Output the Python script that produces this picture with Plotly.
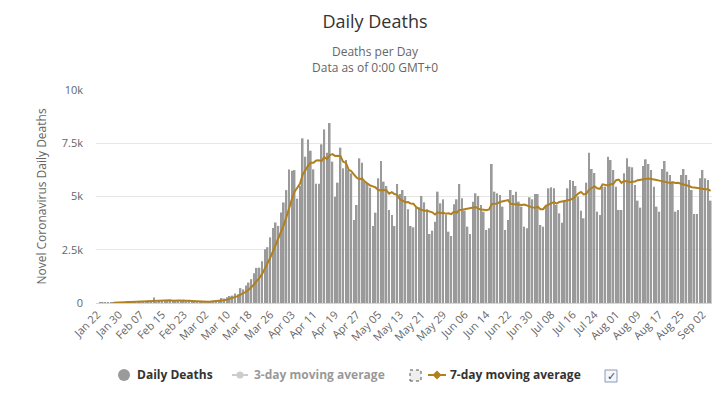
import pandas as pd
import plotly.graph_objects as go

# ---- data ----
start_date = "2020-01-22"
n_days = 228
categories = [d.strftime("%b %d") for d in pd.date_range(start_date, periods=n_days, freq="D")]
tick_labels = categories[::8]

deaths_jan_feb = [0, 8, 16, 15, 24, 26, 26, 38, 43, 46,
                  45, 57, 64, 66, 73, 73, 86, 89, 97, 108, 97, 254, 13, 143, 142,
                  106, 98, 139, 115, 125, 113, 98, 160, 79, 65, 57, 46, 64, 57]
deaths_mar_early = [68, 71, 77, 84, 102, 100, 106, 232, 208, 274, 328, 348, 446, 413]
deaths_surge = [700, 640, 820, 960, 1120, 1400, 1650, 1660, 1960, 2520,
                2620, 3080, 3520, 3780, 3620, 4250, 4720, 5300, 6270, 6210,
                6240, 4900, 5500, 7730, 6870, 7680, 7150, 6275, 5600, 5600,
                7450, 8150, 7050, 8450]
deaths_apr_may = [6636, 4992, 5650, 7293, 6323, 6714, 6244, 6088, 3897, 4601,
                  6792, 6589, 5697, 5618, 5415, 3615, 4241, 5853, 6667, 5697,
                  5493, 4366, 4132, 3615, 5587, 5118, 5305, 5024, 4398, 3615,
                  3553, 4523, 4492, 5024, 4726, 4398, 3240, 3396, 3819, 5227,
                  4679, 4867, 4132, 3349]
deaths_jun_jul = [3146, 4632, 4867, 5587, 4914, 4335, 3584, 3240, 4758, 5149,
                  5024, 4601, 4288, 3427, 3506, 6526, 5227, 5149, 5071, 4523,
                  3427, 3897, 5305, 5071, 5227, 4758, 4523, 3584, 3506, 4961,
                  4867, 5118, 5118, 3662, 3584, 4601, 5384, 5431, 5384, 4601,
                  4210, 3772, 4805, 5384, 5775, 5728, 5493, 5000, 4330]
deaths_jul_sep = [3975, 5650, 7058, 6291, 6104, 4288, 4132, 5462, 5462, 6870,
                  6714, 6244, 5462, 4366, 4366, 6088, 6792, 6401, 6370, 5540,
                  4805, 4476, 6432, 6745, 6526, 6244, 5462, 4523, 4288, 6291,
                  6667, 6166, 6010, 5697, 4288, 4366, 6010, 6291, 6010, 5775,
                  5305, 4179, 4179, 5853, 6244, 5853, 5775, 4805]

daily_deaths = (deaths_jan_feb + deaths_mar_early + deaths_surge +
                deaths_apr_may + deaths_jun_jul + deaths_jul_sep)

s = pd.Series(daily_deaths, dtype=float)
ma7 = s.rolling(7).mean()
ma3 = s.rolling(3).mean()

# ---- style ----
W, H = 724, 394
ML, MR, MT, MB = 96, 12, 90, 91
PW, PH = W - ML - MR, H - MT - MB
FONT = "Open Sans"
GOLD = "#b1801e"
BAR = "#9a9a9a"
GREY_OFF = "#cccccc"
CLEAR = "rgba(0,0,0,0)"
LEG_Y = 375  # legend row centre, px

def px_x(x):
    return (x - ML) / PW

def px_y(y):
    return (H - MB - y) / PH

fig = go.Figure()
fig.add_trace(go.Bar(x=categories, y=daily_deaths, marker_color=BAR,
                     marker_line_width=0, name="Daily Deaths", showlegend=False))
fig.add_trace(go.Scatter(x=categories, y=ma7, mode="lines",
                         line=dict(color=GOLD, width=2), name="7-day moving average",
                         showlegend=False))
# legend entries (text from plotly legends, symbols drawn as shapes below)
fig.add_trace(go.Scatter(x=[None], y=[None], mode="markers", name="Daily Deaths",
                         marker=dict(size=1, color=CLEAR), legend="legend"))
fig.add_trace(go.Scatter(x=categories, y=ma3, mode="lines+markers", name="3-day moving average",
                         visible="legendonly", line=dict(color=CLEAR, width=0),
                         marker=dict(size=1, color=CLEAR), legend="legend2"))
fig.add_trace(go.Scatter(x=[None], y=[None], mode="markers", name="7-day moving average",
                         marker=dict(size=1, color=CLEAR), legend="legend3"))

def rect_px(x0, x1, y0, y1, **kw):
    return dict(type="rect", xref="paper", yref="paper",
                x0=px_x(x0), x1=px_x(x1), y0=px_y(y1), y1=px_y(y0), **kw)

def line_px(x0, x1, y, color, width=2):
    return dict(type="line", xref="paper", yref="paper",
                x0=px_x(x0), x1=px_x(x1), y0=px_y(y), y1=px_y(y),
                line=dict(color=color, width=width))

def circle_px(cx, cy, r, color):
    return dict(type="circle", xref="paper", yref="paper",
                x0=px_x(cx - r), x1=px_x(cx + r), y0=px_y(cy + r), y1=px_y(cy - r),
                fillcolor=color, line=dict(width=0))

def diamond_px(cx, cy, r, color):
    pts = [(cx, cy - r), (cx + r, cy), (cx, cy + r), (cx - r, cy)]
    path = "M " + " L ".join(f"{px_x(a)},{px_y(b)}" for a, b in pts) + " Z"
    return dict(type="path", xref="paper", yref="paper", path=path,
                fillcolor=color, line=dict(width=0))

shapes = [
    circle_px(124, LEG_Y, 6, BAR),
    line_px(232, 248, LEG_Y, GREY_OFF),
    circle_px(240, LEG_Y, 3.5, GREY_OFF),
    rect_px(410, 421, 370, 381, line=dict(color="#555555", width=1, dash="dot"),
            fillcolor="#eeeeee"),
    line_px(428, 446, LEG_Y, GOLD),
    diamond_px(437, LEG_Y, 4.5, GOLD),
    rect_px(605, 617, 370, 382, line=dict(color="#8a9ab0", width=1), fillcolor="#f4f6fa"),
]
annotations = [
    dict(text="Deaths per Day<br>Data as of 0:00 GMT+0", xref="paper", yref="paper",
         x=px_x(375), y=px_y(60), xanchor="center", yanchor="middle", showarrow=False,
         font=dict(family=FONT, size=12, color="#666666")),
    dict(text="✓", xref="paper", yref="paper", x=px_x(611), y=px_y(376),
         xanchor="center", yanchor="middle", showarrow=False,
         font=dict(family="DejaVu Sans", size=11, color="#2b4c8c")),
]

def legend_at(xpx):
    return dict(orientation="h", x=px_x(xpx), y=px_y(LEG_Y - 15), xanchor="left",
                yanchor="top",
                font=dict(family=FONT, size=12, color="#333333", weight="bold"),
                itemclick=False, itemdoubleclick=False, bgcolor="rgba(0,0,0,0)")

fig.update_layout(
    width=W, height=H,
    margin=dict(l=ML, r=MR, t=MT, b=MB, autoexpand=False),
    paper_bgcolor="white", plot_bgcolor="white",
    font=dict(family=FONT, color="#666666"),
    title=dict(text="Daily Deaths", x=375 / W, xanchor="center",
               y=1 - 22 / H, yanchor="middle", yref="container", automargin=False,
               font=dict(family=FONT, size=18, color="#333333")),
    bargap=0.38,
    showlegend=True,
    legend=legend_at(97), legend2=legend_at(214), legend3=legend_at(410),
    shapes=shapes, annotations=annotations,
    hovermode=False,
)
fig.update_xaxes(type="category", tickvals=tick_labels, ticktext=tick_labels,
                 tickangle=-45, tickfont=dict(family=FONT, size=11, color="#666666"),
                 showgrid=False, showline=True, linecolor="#ccd6eb", linewidth=1,
                 ticks="", range=[-0.5, n_days - 0.5], automargin=False)
fig.update_yaxes(range=[0, 10000], tickvals=[0, 2500, 5000, 7500, 10000],
                 ticktext=["0", "2.5k", "5k", "7.5k", "10k"],
                 tickfont=dict(family=FONT, size=11, color="#666666"),
                 gridcolor="#e6e6e6", gridwidth=1, zeroline=False, showline=False,
                 ticklabelstandoff=12, automargin=False,
                 title=dict(text="Novel Coronavirus Daily Deaths", standoff=12,
                            font=dict(family=FONT, size=12, color="#666666")))

fig.write_html("out.html", config={"displayModeBar": False},
               post_script="document.body.style.margin='0';document.body.style.overflow='hidden';")
